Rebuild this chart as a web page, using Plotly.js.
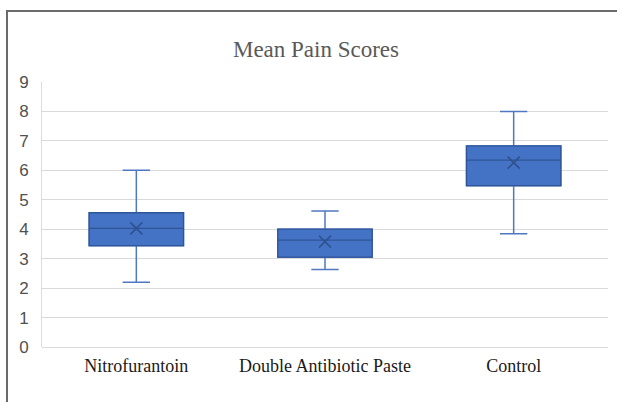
<!DOCTYPE html>
<html>
<head>
<meta charset="utf-8">
<script src="https://cdn.plot.ly/plotly-3.0.1.min.js"></script>
<style>
  html, body { margin: 0; padding: 0; background: #fff; }
  #wrap { position: relative; width: 617px; height: 402px; }
  #chart { position: absolute; left: 0; top: 0; width: 617px; height: 402px; }
  #frame { position: absolute; left: 6px; top: 10px; width: 640px; height: 420px;
           border-left: 2px solid #6a6a6a; border-top: 2px solid #6a6a6a; pointer-events: none; }
</style>
</head>
<body>
<div id="wrap">
  <div id="chart"></div>
  <div id="frame"></div>
</div>
<script>
const categories = ['Nitrofurantoin', 'Double Antibiotic Paste', 'Control'];
const q1Values = [3.44, 3.05, 5.48];
const medianValues = [4.03, 3.63, 6.35];
const q3Values = [4.56, 4.0, 6.83];
const lowerWhisker = [2.2, 2.63, 3.85];
const upperWhisker = [6.0, 4.62, 8.0];
const meanValues = [4.03, 3.58, 6.26];
const yTicks = [0, 1, 2, 3, 4, 5, 6, 7, 8, 9];

const whiskers = {
  type: 'box', x: categories,
  q1: q1Values, median: medianValues, q3: q3Values,
  lowerfence: lowerWhisker, upperfence: upperWhisker,
  width: 0.5,
  fillcolor: '#4472C4', line: { color: '#4F78C0', width: 1.5 },
  whiskerwidth: 0.29, hoverinfo: 'skip', showlegend: false
};
const boxes = {
  type: 'box', x: categories,
  q1: q1Values, median: medianValues, q3: q3Values,
  lowerfence: q1Values, upperfence: q3Values,
  width: 0.5,
  fillcolor: '#4472C4', line: { color: '#2F5597', width: 1.3 },
  whiskerwidth: 0, showlegend: false
};
const means = {
  type: 'scatter', mode: 'markers', x: categories, y: meanValues,
  marker: { symbol: 'x-thin', size: 12, line: { color: '#2F528F', width: 1.6 }, color: '#2F528F' },
  showlegend: false
};

const layout = {
  width: 617, height: 402,
  margin: { l: 42, r: 9, t: 82, b: 55, pad: 0 },
  paper_bgcolor: '#ffffff', plot_bgcolor: '#ffffff',
  boxmode: 'overlay',
  title: {
    text: 'Mean Pain Scores',
    font: { family: 'Liberation Serif, Times New Roman, serif', size: 23, color: '#595959' },
    x: (316 - 42) / 566, xanchor: 'center', xref: 'paper', y: 1 - 49 / 402, yanchor: 'middle'
  },
  xaxis: {
    type: 'category', range: [-0.5, 2.5], autorange: false,
    showgrid: false, zeroline: false, showline: false, ticks: '',
    tickfont: { family: 'Liberation Serif, Times New Roman, serif', size: 18, color: '#1a1a1a' },
    ticklabelstandoff: 6
  },
  yaxis: {
    range: [0, 9], tickvals: yTicks, ticktext: yTicks.map(String),
    showgrid: true, gridcolor: '#d9d9d9', gridwidth: 1,
    zeroline: true, zerolinecolor: '#d9d9d9', zerolinewidth: 1,
    showline: true, linecolor: '#dcdcdc', linewidth: 1, ticks: '',
    tickfont: { family: 'Liberation Sans, Arial, sans-serif', size: 17, color: '#505050' },
    ticklabelstandoff: 9
  },
  font: { family: 'Liberation Serif, serif' }
};

Plotly.newPlot('chart', [whiskers, boxes, means], layout, { displayModeBar: false, staticPlot: true });
</script>
</body>
</html>
